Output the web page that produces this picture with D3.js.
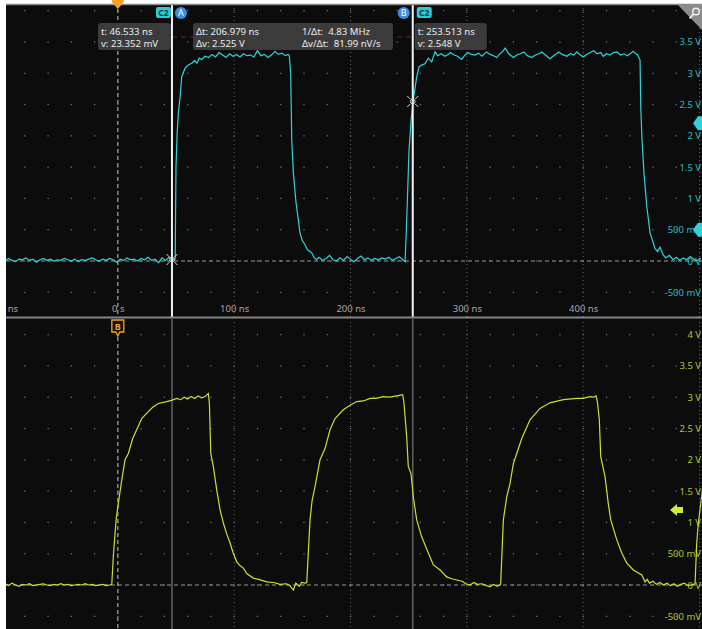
<!DOCTYPE html>
<html><head><meta charset="utf-8">
<script src="https://cdn.jsdelivr.net/npm/d3@7"></script>
<style>html,body{margin:0;padding:0;background:#fff;} svg{display:block;} text{white-space:pre;}</style>
</head><body><div id="chart"></div>
<script>
// ---------- data ----------
const timeTicks = [-100, 0, 100, 200, 300, 400];
const timeTickLabels = ["-100 ns", "0 s", "100 ns", "200 ns", "300 ns", "400 ns"];
const voltTicks = [-0.5, 0, 0.5, 1, 1.5, 2, 2.5, 3, 3.5, 4];
const voltTickLabels = ["-500 mV", "0 V", "500 mV", "1 V", "1.5 V", "2 V", "2.5 V", "3 V", "3.5 V", "4 V"];
const majorTimes = [-100, 100, 200, 300, 400, 500];
const cursorA = 46.533, cursorB = 253.513;
const cursorAVolt = 0.023352, cursorBVolt = 2.548;
const readoutA = ["t: 46.533 ns", "v: 23.352 mV"];
const readoutDelta = ["Δt: 206.979 ns", "Δv: 2.525 V"];
const readoutRate = ["1/Δt:  4.83 MHz", "Δv/Δt:  81.99 nV/s"];
const readoutB = ["t: 253.513 ns", "v: 2.548 V"];
const topOffsetMarkers = [2.2, 0.5];
const bottomOffsetMarker = 1.2;

// channel 2 (cyan, top) : [time ns, volts]
const ch2Trace = [
[-100,0.03],[-97,0.00],[-94,0.04],[-91,0.01],[-88,-0.01],[-85,0.03],[-82,0.02],[-79,0.05],[-76,0.01],[-73,0.03],
[-70,-0.02],[-67,0.02],[-64,0.04],[-61,0.01],[-58,0.03],[-55,0.00],[-52,0.02],[-49,0.01],[-46,0.04],[-43,0.02],
[-40,0.00],[-37,0.03],[-34,-0.01],[-31,0.02],[-28,0.01],[-25,0.03],[-22,0.05],[-19,0.02],[-16,0.00],[-13,0.03],
[-10,0.01],[-7,0.04],[-4,0.02],[-1,-0.02],[2,0.03],[5,0.01],[8,0.05],[11,0.02],[14,0.03],[17,0.00],
[20,0.04],[23,0.02],[26,0.06],[29,0.01],[32,0.03],[35,-0.03],[38,0.05],[41,0.01],[44,0.06],[47,0.02],[49.3,0.03],
[50,1.50],[51,2.05],[52,2.36],[53.5,2.62],[54.9,2.94],[57.8,3.08],[60.6,3.13],[63.5,3.16],[66,3.20],[68,3.16],[70,3.24],
[72,3.22],[75,3.27],[78,3.25],[81,3.30],[84,3.26],[87,3.33],[90,3.29],[93,3.25],[96,3.31],[99,3.27],[102,3.30],[105,3.26],
[108,3.31],[111,3.28],[114,3.29],[117,3.26],[120,3.36],[123,3.28],[126,3.30],[129,3.25],[132,3.29],[135,3.35],[138,3.30],
[141,3.32],[144,3.28],[146.5,3.30],
[147.4,3.28],[148.6,3.00],[149.5,1.93],[150.9,1.40],[153.2,0.93],[156.6,0.45],[158.5,0.33],[160.9,0.26],[163,0.18],
[166.7,0.13],[168.5,0.06],[170.9,0.02],
[173,0.06],[176,0.01],[179,0.04],[182,0.09],[185,0.02],[188,0.00],[191,0.05],[194,0.01],[197,0.07],[200,0.03],[203,-0.01],
[206,0.04],[209,0.08],[212,0.02],[215,0.05],[218,0.01],[221,0.04],[224,0.02],[227,0.05],[230,0.03],[233,0.06],[236,0.01],
[239,0.04],[242,0.07],[245,0.02],[246.9,-0.01],
[247.7,0.34],[248.9,0.97],[250.3,1.77],[252.1,2.25],[253.8,2.55],[256.9,2.94],[258.9,3.10],[261,3.13],[264,3.15],
[266.9,3.24],[269.8,3.18],[272.7,3.34],
[275,3.28],[278,3.31],[281,3.27],[284,3.30],[286,3.33],[289,3.29],[292,3.27],[295.6,3.22],[298,3.28],[301,3.33],[304,3.30],
[307,3.29],[310,3.32],[313,3.27],[317,3.34],[320,3.30],[323,3.28],[325.7,3.25],[328,3.30],[331,3.35],[333,3.40],[336,3.31],
[340,3.25],[343,3.29],[346,3.31],[349,3.34],[352,3.28],[355.8,3.25],[359,3.29],[362,3.31],[364.4,3.34],[367,3.30],[371.5,3.23],
[374,3.27],[377,3.31],[379,3.34],[382,3.30],[386,3.27],[389,3.31],[392,3.29],[394.5,3.34],[397,3.30],[400,3.26],[403,3.30],
[406,3.33],[409,3.36],[412,3.31],[415,3.33],[417.4,3.27],[420,3.31],[423,3.29],[426,3.33],[429,3.34],[432,3.29],[435,3.31],
[438,3.28],[441,3.32],[443,3.35],[446,3.30],
[446.6,3.30],[448.9,3.21],[449.5,2.46],[450.6,1.93],[452.3,1.40],[454.7,0.87],[457.5,0.45],[461.8,0.20],[464,0.15],[466,0.22],
[468.7,0.10],[471,0.05],[474,0.09],[477.3,0.02],
[480,0.06],[483,0.01],[486,0.05],[489,0.02],[492,0.07],[495,0.03],[498,0.00],[501,0.05]
];

// lower channel (yellow-green, bottom) : [time ns, volts]
const lowerTrace = [
[-100,0.01],[-97,0.02],[-94,-0.01],[-91,0.03],[-88,0.00],[-85,-0.02],[-82,0.01],[-79,0.00],[-76,0.02],[-73,-0.01],
[-70,0.00],[-67,0.01],[-64,0.02],[-61,0.00],[-58,-0.01],[-55,0.01],[-52,0.00],[-49,0.02],[-46,0.00],[-43,0.01],
[-40,-0.01],[-37,0.00],[-34,0.01],[-31,0.00],[-28,0.02],[-25,0.00],[-22,0.01],[-19,-0.01],[-16,0.00],[-13,0.01],
[-10,-0.01],[-7,0.00],[-5.2,0.01],
[-3.9,0.45],[-1.5,1.04],[0.4,1.30],[3.4,1.68],[6.2,2.00],[9.0,2.10],[12.8,2.34],[16.2,2.48],[20.5,2.66],[26.2,2.77],
[30,2.84],[34.8,2.90],[42.0,2.93],[46,2.95],[50.6,2.98],[54,2.96],[57,3.00],[60,2.97],[63,3.01],[66,2.98],[69,3.02],
[72,2.99],[75,3.01],[77.8,3.06],
[78.7,2.90],[79.9,2.10],[82.1,1.89],[85.0,1.52],[87.9,1.20],[90.7,0.99],[93.5,0.82],[96.5,0.67],[99,0.52],[102.2,0.37],
[105,0.31],[107.9,0.27],[111,0.18],[116.5,0.11],[121,0.09],[128.0,0.05],[134,0.04],[139.4,0.01],[145,0.02],[148,-0.01],
[150.9,-0.08],[153,0.03],[156,-0.02],[158,0.04],[160.9,0.03],
[162.4,0.04],[165.2,1.04],[167,1.35],[169.5,1.57],[173.8,2.00],[178.1,2.18],[182.4,2.48],[186.7,2.66],[193.8,2.80],
[199.6,2.87],[205.4,2.93],[211,2.94],[216.8,2.98],[222,2.98],[228.2,3.01],[234,3.00],[239.7,3.02],[244.9,3.04],
[246.0,2.90],[248.3,2.37],[249.7,1.89],[252.0,1.78],[254.0,1.41],[256.9,1.04],[261.2,0.77],[266.9,0.51],[271.2,0.32],
[277.0,0.24],[282.7,0.13],[287,0.10],[291.3,0.08],[296,0.06],[299,0.02],[302.8,0.00],[306,0.04],[309,0.01],[313,0.02],
[317,-0.01],[320,-0.03],[323,0.01],[326,-0.02],[328.6,0.00],
[329.1,0.02],[331.4,1.04],[334.3,1.41],[337.1,1.62],[340.0,1.94],[342.9,2.10],[347.2,2.34],[354.3,2.64],[362.9,2.82],
[371.5,2.91],[383.0,2.96],[394.5,2.98],[400,2.98],[405.9,3.01],[409,3.00],[411.1,3.02],
[412.2,2.93],[413.9,2.64],[415.1,2.05],[418.8,1.73],[421.6,1.30],[423.7,1.04],[428.9,0.72],[433.2,0.51],[437.5,0.35],
[443.1,0.24],[450.4,0.16],[453.2,0.05],[455,0.09],[457,0.03],[460,0.06],[463,0.01],[466,0.04],[469,0.00],[472,0.03],
[475,-0.01],[478,0.02],[481,-0.02],[484,0.01],[487,0.03],[490,-0.01],[494.7,0.01],
[496.2,0.02],[497.6,0.67],[499.0,0.99],[501.1,1.30],[503,1.60]
];

// ---------- rendering ----------
const W = 702, H = 629;
const plotL = 6, plotR = 702;
const topP = {y0: 4, y1: 317};
const botP = {y0: 318, y1: 629};
const cyan = "#2fd3da", cyanLbl = "#25bcc4";
const lime = "#c6e232", limeLbl = "#abc72e";
const FONT = "'Noto Sans', 'Open Sans', 'DejaVu Sans', sans-serif";

const x = d3.scaleLinear().domain([-100, 500]).range([1.5, 699.5]);
const yTop = d3.scaleLinear().domain([0, 4]).range([261, 10.6]);
const yBot = d3.scaleLinear().domain([0, 4]).range([585, 334.6]);

const svg = d3.select("#chart").append("svg").attr("width", W).attr("height", H);
svg.append("rect").attr("width", W).attr("height", H).attr("fill", "#ffffff");
svg.append("rect").attr("x", plotL).attr("y", topP.y0).attr("width", plotR - plotL).attr("height", H - topP.y0).attr("fill", "#0c0c0c");

const defs = svg.append("defs");
defs.append("clipPath").attr("id", "clipTop").append("rect")
  .attr("x", plotL).attr("y", topP.y0 + 1).attr("width", plotR - plotL).attr("height", topP.y1 - topP.y0 - 1);
defs.append("clipPath").attr("id", "clipBot").append("rect")
  .attr("x", plotL).attr("y", botP.y0 + 1).attr("width", plotR - plotL).attr("height", botP.y1 - botP.y0);

function drawGrid(g, y, panel) {
  const dotTimes = d3.range(-100, 501, 20);
  const dotVolts = d3.range(-1, 4.6, 0.5).filter(v => y(v) > panel.y0 + 2 && y(v) < panel.y1 - 2);
  const dots = [];
  dotTimes.forEach(t => dotVolts.forEach(v => dots.push([t, v])));
  g.selectAll("rect.dot").data(dots).join("rect").attr("class", "dot")
    .attr("x", d => x(d[0]) - 0.6).attr("y", d => y(d[1]) - 0.6)
    .attr("width", 1.3).attr("height", 1.3).attr("fill", "#6e6e6e");
  g.selectAll("line.major").data(majorTimes).join("line").attr("class", "major")
    .attr("x1", d => x(d)).attr("x2", d => x(d))
    .attr("y1", panel.y0).attr("y2", panel.y1)
    .attr("stroke", "#666").attr("stroke-width", 1).attr("stroke-dasharray", "1,3");
  g.append("line").attr("x1", plotL).attr("x2", plotR).attr("y1", y(0)).attr("y2", y(0))
    .attr("stroke", "#9a9a9a").attr("stroke-width", 1.2).attr("stroke-dasharray", "4,3");
}

const gTop = svg.append("g").attr("clip-path", "url(#clipTop)");
const gBot = svg.append("g").attr("clip-path", "url(#clipBot)");
drawGrid(gTop, yTop, topP);
drawGrid(gBot, yBot, botP);

// right-side voltage labels
function drawVoltAxis(g, y, color) {
  const ax = d3.axisLeft(y).tickValues(voltTicks).tickFormat((d, i) => voltTickLabels[i]).tickSize(0).tickPadding(0);
  const a = g.append("g").attr("transform", `translate(${W - 1},0)`).call(ax);
  a.select(".domain").remove();
  a.selectAll("text").attr("fill", color).style("font-family", FONT).style("font-size", "9.5px");
}
drawVoltAxis(gTop, yTop, cyanLbl);
drawVoltAxis(gBot, yBot, limeLbl);

// time labels along bottom of top panel
{
  const ax = d3.axisBottom(x).tickValues(timeTicks).tickFormat((d, i) => timeTickLabels[i]).tickSize(0).tickPadding(0);
  const a = gTop.append("g").attr("transform", `translate(0,${topP.y1 - 12})`).call(ax);
  a.select(".domain").remove();
  a.selectAll("text").attr("fill", "#a6a6a6").style("font-family", FONT).style("font-size", "9.5px");
}

// trigger (t = 0) dashed vertical lines
gTop.append("line").attr("x1", x(0)).attr("x2", x(0)).attr("y1", 9).attr("y2", topP.y1)
  .attr("stroke", "#a8a8a8").attr("stroke-width", 1.2).attr("stroke-dasharray", "4,3");
gBot.append("line").attr("x1", x(0)).attr("x2", x(0)).attr("y1", 337).attr("y2", botP.y1)
  .attr("stroke", "#a8a8a8").attr("stroke-width", 1.2).attr("stroke-dasharray", "4,3");

// cursor lines in bottom panel (dim)
[cursorA, cursorB].forEach(c => {
  gBot.append("line").attr("x1", x(c)).attr("x2", x(c)).attr("y1", botP.y0).attr("y2", botP.y1)
    .attr("stroke", "#5e5e5e").attr("stroke-width", 1.6);
});

// traces
const lineTop = d3.line().x(d => x(d[0])).y(d => yTop(d[1]));
const lineBot = d3.line().x(d => x(d[0])).y(d => yBot(d[1]));
gTop.append("path").datum(ch2Trace).attr("d", lineTop).attr("fill", "none").attr("stroke", cyan).attr("stroke-width", 1.2);
gBot.append("path").datum(lowerTrace).attr("d", lineBot).attr("fill", "none").attr("stroke", lime).attr("stroke-width", 1.2);

// horizontal red dashed line between cursors
gTop.append("line").attr("x1", x(cursorA)).attr("x2", x(cursorB)).attr("y1", 37).attr("y2", 37)
  .attr("stroke", "#7d1c1c").attr("stroke-width", 1.2).attr("stroke-dasharray", "5,4");

// cursor lines in top panel (bright)
[cursorA, cursorB].forEach(c => {
  gTop.append("line").attr("x1", x(c)).attr("x2", x(c)).attr("y1", topP.y0).attr("y2", topP.y1)
    .attr("stroke", "#f2f2f2").attr("stroke-width", 2);
});

// cursor crosshair markers
function crossMark(cx, cy) {
  const g = gTop.append("g").attr("stroke", "#d8d8d8").attr("stroke-width", 1).attr("fill", "none");
  g.append("circle").attr("cx", cx).attr("cy", cy).attr("r", 2.4);
  [[-1,-1],[1,-1],[-1,1],[1,1]].forEach(([sx, sy]) => {
    g.append("line").attr("x1", cx + sx * 2.5).attr("y1", cy + sy * 2.5).attr("x2", cx + sx * 5.5).attr("y2", cy + sy * 5.5);
  });
}
crossMark(x(cursorA), yTop(cursorAVolt));
crossMark(x(cursorB), yTop(cursorBVolt));

// readout boxes
function readout(x0, w, cols) {
  const g = gTop.append("g");
  g.append("rect").attr("x", x0).attr("y", 23).attr("width", w).attr("height", 27).attr("rx", 3)
    .attr("fill", "#3e3e3e").attr("fill-opacity", 0.95);
  cols.forEach(col => {
    col.lines.forEach((s, i) => {
      g.append("text").attr("x", x0 + col.dx).attr("y", 34.5 + i * 12).text(s)
        .attr("fill", "#ececec").style("font-family", FONT).style("font-size", "9.6px");
    });
  });
}
readout(x(cursorA) - 74, 73, [{dx: 3, lines: readoutA}]);
readout(x(cursorA) + 21, 200, [{dx: 3, lines: readoutDelta}, {dx: 109, lines: readoutRate}]);
readout(x(cursorB) + 2, 72, [{dx: 3, lines: readoutB}]);

// top border and panel separator
svg.append("line").attr("x1", plotL).attr("x2", plotR).attr("y1", topP.y0 + 0.5).attr("y2", topP.y0 + 0.5)
  .attr("stroke", "#8a8a8a").attr("stroke-width", 1.5);
svg.append("line").attr("x1", plotL).attr("x2", plotR).attr("y1", topP.y1 + 0.5).attr("y2", topP.y1 + 0.5)
  .attr("stroke", "#858585").attr("stroke-width", 2);

// channel / cursor badges at the top
function c2Badge(x0) {
  svg.append("rect").attr("x", x0).attr("y", 7).attr("width", 15).attr("height", 11).attr("rx", 2).attr("fill", "#2fcad3");
  svg.append("text").attr("x", x0 + 7.5).attr("y", 15.8).attr("text-anchor", "middle").text("C2")
    .attr("fill", "#073a40").style("font-family", FONT).style("font-size", "8.5px").style("font-weight", "bold");
}
function cursorBadge(cx, label) {
  svg.append("circle").attr("cx", cx).attr("cy", 13).attr("r", 6).attr("fill", "#3b8fe3");
  svg.append("text").attr("x", cx).attr("y", 16.3).attr("text-anchor", "middle").text(label)
    .attr("fill", "#ffffff").style("font-family", FONT).style("font-size", "9px");
}
c2Badge(x(cursorA) - 16);
cursorBadge(x(cursorA) + 9, "A");
cursorBadge(x(cursorB) - 9, "B");
c2Badge(x(cursorB) + 4);

// trigger marker (orange) at top
{
  const cx = x(0);
  svg.append("path").attr("d", `M${cx - 6},0 L${cx + 6},0 L${cx + 6},2 L${cx},9 L${cx - 6},2 Z`).attr("fill", "#f2a22c");
}

// B marker in lower panel
{
  const cx = x(0);
  svg.append("path").attr("d", `M${cx - 6},320 L${cx + 6},320 L${cx + 6},332 L${cx + 2},332 L${cx},336 L${cx - 2},332 L${cx - 6},332 Z`)
    .attr("fill", "#1a1406").attr("stroke", "#f0a326").attr("stroke-width", 1.3);
  svg.append("text").attr("x", cx).attr("y", 329.8).attr("text-anchor", "middle").text("B")
    .attr("fill", "#f0a326").style("font-family", FONT).style("font-size", "9px").style("font-weight", "bold");
}

// channel offset markers on the right (top panel, cyan)
topOffsetMarkers.forEach(v => {
  const cy = yTop(v);
  svg.append("path").attr("d", `M${W - 9},${cy} L${W - 4},${cy - 7} L${W},${cy - 7} L${W},${cy + 7} L${W - 4},${cy + 7} Z`)
    .attr("fill", "#2fd3da");
});
// lower panel arrow marker
{
  const cy = yBot(bottomOffsetMarker);
  svg.append("path").attr("d", `M670,${cy} L677,${cy - 6} L677,${cy - 3} L683,${cy - 3} L683,${cy + 3} L677,${cy + 3} L677,${cy + 6} Z`)
    .attr("fill", "#cdea3a");
}

// zoom icon at top-right
{
  svg.append("path").attr("d", `M678,5 L702,5 L702,30 Z`).attr("fill", "#8c8c8c");
  svg.append("circle").attr("cx", 696).attr("cy", 11.5).attr("r", 3.3).attr("fill", "none").attr("stroke", "#f4f4f4").attr("stroke-width", 1.4);
  svg.append("line").attr("x1", 693.6).attr("y1", 14).attr("x2", 689.5).attr("y2", 18.5).attr("stroke", "#f4f4f4").attr("stroke-width", 1.8);
}
</script></body></html>
